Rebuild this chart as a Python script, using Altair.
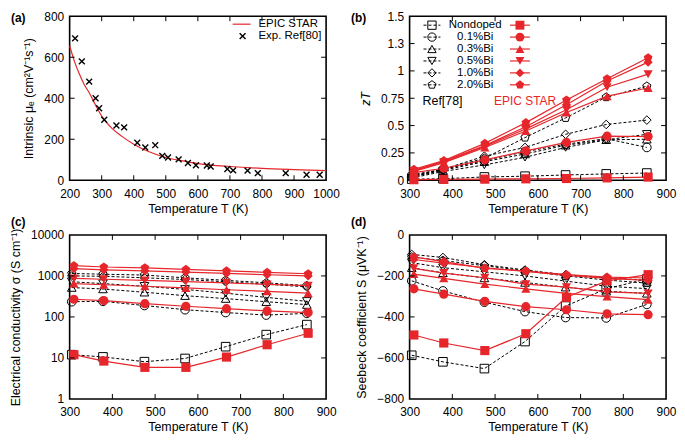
import altair as alt
import pandas as pd

RED = "#e6262b"
FONT = "Liberation Sans"
W, H = 258, 165
PENT = "M0,-1L0.951,-0.309L0.588,0.809L-0.588,0.809L-0.951,-0.309Z"
XMARK = "M-1,-1L1,1M-1,1L1,-1"

# ---------------- panel (a) ----------------
a_curve_T = [200, 215, 230, 245, 261, 281, 300, 333, 363, 400, 446, 500, 548, 600, 650, 700, 800, 900, 1000]
a_curve_mu = [656, 580, 519, 468, 427, 366, 313, 252, 214, 176, 140, 111, 96, 81, 73, 67, 58, 52, 47]
a_exp_T = [217, 238, 261, 281, 292, 308, 346, 370, 411, 436, 467, 489, 507, 540, 569, 594,
           628, 640, 692, 710, 755, 787, 874, 939, 980]
a_exp_mu = [692, 580, 481, 400, 351, 295, 267, 258, 183, 160, 171, 119, 111, 102, 84, 73,
            72, 67, 55, 48, 47, 35, 35, 27, 27]

# ---------------- panels (b)-(d) ----------------
series = ["Nondoped", "0.1%Bi", "0.3%Bi", "0.5%Bi", "1.0%Bi", "2.0%Bi"]
SHAPES = ["square", "circle", "triangle-up", "triangle-down", "diamond", PENT]
T_exp = [305, 378, 475, 570, 665, 760, 855]
T_sim = [310, 380, 476, 572, 667, 762, 858]

zt_exp = {
    "Nondoped": [0.010, 0.014, 0.030, 0.037, 0.048, 0.058, 0.066],
    "0.1%Bi": [0.03, 0.10, 0.18, 0.26, 0.33, 0.38, 0.30],
    "0.3%Bi": [0.03, 0.09, 0.17, 0.24, 0.32, 0.37, 0.375],
    "0.5%Bi": [0.02, 0.08, 0.14, 0.21, 0.30, 0.37, 0.42],
    "1.0%Bi": [0.04, 0.10, 0.22, 0.30, 0.42, 0.51, 0.55],
    "2.0%Bi": [0.05, 0.10, 0.20, 0.39, 0.57, 0.76, 0.86],
}
zt_sim = {
    "Nondoped": [0.005, 0.008, 0.010, 0.013, 0.016, 0.022, 0.029],
    "0.1%Bi": [0.07, 0.11, 0.187, 0.268, 0.346, 0.403, 0.40],
    "0.3%Bi": [0.08, 0.16, 0.30, 0.45, 0.62, 0.769, 0.844],
    "0.5%Bi": [0.085, 0.165, 0.31, 0.47, 0.645, 0.85, 0.97],
    "1.0%Bi": [0.09, 0.173, 0.317, 0.49, 0.69, 0.907, 1.08],
    "2.0%Bi": [0.10, 0.18, 0.337, 0.527, 0.734, 0.928, 1.12],
}
sig_exp = {
    "Nondoped": [12, 10.6, 8.1, 9.7, 18.8, 37, 65],
    "0.1%Bi": [235, 240, 190, 150, 128, 111, 122],
    "0.3%Bi": [520, 480, 400, 330, 280, 235, 200],
    "0.5%Bi": [720, 650, 560, 470, 380, 300, 240],
    "1.0%Bi": [1000, 980, 900, 820, 720, 630, 540],
    "2.0%Bi": [1150, 1100, 1050, 900, 780, 680, 580],
}
sig_sim = {
    "Nondoped": [12, 8.4, 5.9, 5.9, 10.5, 21, 40],
    "0.1%Bi": [270, 250, 211, 182, 159, 140, 128],
    "0.3%Bi": [650, 610, 560, 510, 460, 420, 380],
    "0.5%Bi": [870, 830, 780, 730, 680, 620, 580],
    "1.0%Bi": [1500, 1400, 1330, 1240, 1150, 1070, 1000],
    "2.0%Bi": [1780, 1650, 1580, 1450, 1330, 1220, 1130],
}
see_exp = {
    "Nondoped": [-587, -619, -652, -520, -347, -263, -215],
    "0.1%Bi": [-224, -273, -328, -374, -403, -405, -339],
    "0.3%Bi": [-160, -185, -210, -232, -255, -275, -285],
    "0.5%Bi": [-135, -160, -180, -200, -225, -250, -262],
    "1.0%Bi": [-95, -110, -145, -171, -194, -209, -221],
    "2.0%Bi": [-108, -125, -150, -175, -200, -220, -235],
}
see_sim = {
    "Nondoped": [-488, -527, -564, -482, -304, -224, -194],
    "0.1%Bi": [-263, -289, -324, -350, -365, -385, -389],
    "0.3%Bi": [-191, -212, -240, -263, -285, -301, -316],
    "0.5%Bi": [-163, -186, -209, -240, -255, -278, -285],
    "1.0%Bi": [-120, -138, -160, -178, -198, -212, -222],
    "2.0%Bi": [-107, -130, -163, -176, -194, -206, -210],
}

one = pd.DataFrame({"k": [0]})


def long(d, T):
    rows = []
    for s in series:
        for t, v in zip(T, d[s]):
            rows.append({"series": s, "T": t, "v": v})
    return pd.DataFrame(rows)


def inner_ticks(xs, ys, xscale, yscale, xaxis, yaxis):
    dx = pd.DataFrame({"T": xs})
    dy = pd.DataFrame({"v": ys})
    L = []
    for y0, y1 in [(H, H - 5), (0, 5)]:
        L.append(alt.Chart(dx).mark_rule(color="black", strokeWidth=1).encode(
            x=alt.X("T:Q", scale=xscale, axis=xaxis), y=alt.value(y0), y2=alt.value(y1)))
    for x0, x1 in [(0, 5), (W, W - 5)]:
        L.append(alt.Chart(dy).mark_rule(color="black", strokeWidth=1).encode(
            y=alt.Y("v:Q", scale=yscale, axis=yaxis), x=alt.value(x0), x2=alt.value(x1)))
    return L


def label(txt, yy):
    return alt.Chart(one).mark_text(font=FONT, fontSize=12, fontWeight="bold", align="left",
                                    baseline="middle", color="black").encode(
        x=alt.value(-59), y=alt.value(yy), text=alt.value(txt))


def text_at(txt, x, y, color="black", size=11.5, align="left"):
    return alt.Chart(one).mark_text(font=FONT, fontSize=size, align=align, baseline="middle",
                                    color=color).encode(x=alt.value(x), y=alt.value(y), text=alt.value(txt))


def data_layers(dfe, dfs, xscale, yscale, xaxis, yaxis):
    ex = alt.X("T:Q", scale=xscale, axis=xaxis)
    ey = alt.Y("v:Q", scale=yscale, axis=yaxis)
    shp = alt.Shape("series:N", scale=alt.Scale(domain=series, range=SHAPES), legend=None)
    bl = alt.Chart(dfe).mark_line(color="black", strokeDash=[3, 2], strokeWidth=1).encode(
        x=ex, y=ey, detail="series:N")
    bp = alt.Chart(dfe).mark_point(filled=False, color="black", size=75, strokeWidth=1, opacity=1).encode(
        x=ex, y=ey, shape=shp)
    rl = alt.Chart(dfs).mark_line(color=RED, strokeWidth=1.2).encode(x=ex, y=ey, detail="series:N")
    rp = alt.Chart(dfs).mark_point(filled=True, color=RED, size=85, opacity=1).encode(
        x=ex, y=ey, shape=shp)
    return [bl, bp, rl, rp]


xT = "Temperature T (K)"
x_ax_t = alt.Axis(values=list(range(300, 901, 100)), format="d", title=xT)

# ---- (a)
xs_a = alt.Scale(domain=[200, 1000], nice=False)
ys_a = alt.Scale(domain=[0, 800], nice=False)
x_ax_a = alt.Axis(values=list(range(200, 1001, 100)), format="d", title=xT)
y_ax_a = alt.Axis(values=[0, 200, 400, 600, 800], format="d", title="Intrinsic μₑ (cm²V⁻¹s⁻¹)")
a_curve = pd.DataFrame({"T": a_curve_T, "v": a_curve_mu})
a_exp = pd.DataFrame({"T": a_exp_T, "v": a_exp_mu})
pa_line = alt.Chart(a_curve).mark_line(color=RED, strokeWidth=1.2, interpolate="monotone").encode(
    x=alt.X("T:Q", scale=xs_a, axis=x_ax_a), y=alt.Y("v:Q", scale=ys_a, axis=y_ax_a))
pa_pts = alt.Chart(a_exp).mark_point(shape=XMARK, filled=False, color="black", size=35,
                                     strokeWidth=1.4, opacity=1).encode(
    x=alt.X("T:Q", scale=xs_a, axis=x_ax_a), y=alt.Y("v:Q", scale=ys_a, axis=y_ax_a))
a_leg = [
    alt.Chart(one).mark_rule(color=RED, strokeWidth=1.2).encode(x=alt.value(164), x2=alt.value(182), y=alt.value(8)),
    text_at("EPIC STAR", 190, 8),
    alt.Chart(one).mark_point(shape=XMARK, filled=False, color="black", size=35, strokeWidth=1.4,
                              opacity=1).encode(x=alt.value(174), y=alt.value(20)),
    text_at("Exp. Ref[80]", 190, 20),
]
panel_a = alt.layer(pa_line, pa_pts,
                    *inner_ticks(list(range(300, 1000, 100)), [200, 400, 600], xs_a, ys_a, x_ax_a, y_ax_a),
                    *a_leg, label("(a)", 2)).properties(width=W, height=H)

# ---- (b)
xs_t = alt.Scale(domain=[300, 900], nice=False)
ys_b = alt.Scale(domain=[0, 1.5], nice=False)
y_ax_b = alt.Axis(values=[0, 0.25, 0.5, 0.75, 1, 1.25, 1.5], format="~g", title="zT",
                  titleFontStyle="italic")
b_layers = data_layers(long(zt_exp, T_exp), long(zt_sim, T_sim), xs_t, ys_b, x_ax_t, y_ax_b)
b_leg = []
for i, s in enumerate(series):
    yy = 9 + 12 * i
    b_leg.append(alt.Chart(one).mark_rule(color="black", strokeWidth=1, strokeDash=[3, 2]).encode(
        x=alt.value(14), x2=alt.value(31), y=alt.value(yy)))
    b_leg.append(alt.Chart(one).mark_point(shape=SHAPES[i], filled=False, color="black", size=70,
                                           strokeWidth=1, opacity=1).encode(x=alt.value(22.5), y=alt.value(yy)))
    b_leg.append(text_at(s, 66, yy, align="center"))
    b_leg.append(alt.Chart(one).mark_rule(color=RED, strokeWidth=1.2).encode(
        x=alt.value(101), x2=alt.value(121), y=alt.value(yy)))
    b_leg.append(alt.Chart(one).mark_point(shape=SHAPES[i], filled=True, color=RED, size=80,
                                           opacity=1).encode(x=alt.value(111), y=alt.value(yy)))
b_leg.append(text_at("Ref[78]", 13, 85, size=12.5))
b_leg.append(text_at("EPIC STAR", 85, 85, color=RED, size=12))
panel_b = alt.layer(*b_layers,
                    *inner_ticks(list(range(400, 900, 100)), [0.25, 0.5, 0.75, 1, 1.25], xs_t, ys_b,
                                 x_ax_t, y_ax_b),
                    *b_leg, label("(b)", 2)).properties(width=W, height=H)

# ---- (c)
ys_c = alt.Scale(type="log", domain=[1, 10000], nice=False)
y_ax_c = alt.Axis(values=[1, 10, 100, 1000, 10000], format="d",
                  title="Electrical conductivity σ (S cm⁻¹)")
c_layers = data_layers(long(sig_exp, T_exp), long(sig_sim, T_sim), xs_t, ys_c, x_ax_t, y_ax_c)
panel_c = alt.layer(*c_layers,
                    *inner_ticks(list(range(400, 900, 100)), [10, 100, 1000], xs_t, ys_c, x_ax_t, y_ax_c),
                    label("(c)", -13)).properties(width=W, height=H)

# ---- (d)
ys_d = alt.Scale(domain=[-800, 0], nice=False)
y_ax_d = alt.Axis(values=[-800, -600, -400, -200, 0], format="d", title="Seebeck coefficient S (μVK⁻¹)")
d_layers = data_layers(long(see_exp, T_exp), long(see_sim, T_sim), xs_t, ys_d, x_ax_t, y_ax_d)
panel_d = alt.layer(*d_layers,
                    *inner_ticks(list(range(400, 900, 100)), [-600, -400, -200], xs_t, ys_d, x_ax_t, y_ax_d),
                    label("(d)", -13)).properties(width=W, height=H)

chart = alt.concat(panel_a, panel_b, panel_c, panel_d, columns=2, bounds="flush",
                   spacing={"row": 55, "column": 84}).properties(
    padding={"left": 0, "top": 0, "right": 0, "bottom": 0}
).configure_view(stroke="black", strokeWidth=1.6).configure_axis(
    grid=False, domain=False, ticks=False, labelFont=FONT, titleFont=FONT, labelFontSize=12,
    titleFontSize=12.5, labelColor="black", titleColor="black", titleFontWeight="normal",
    labelFlush=False, labelOverlap=False
).configure_axisX(labelPadding=8, titlePadding=3).configure_axisY(labelPadding=6, titlePadding=8)

chart.save("out.html", embed_options={"renderer": "svg", "actions": False})
